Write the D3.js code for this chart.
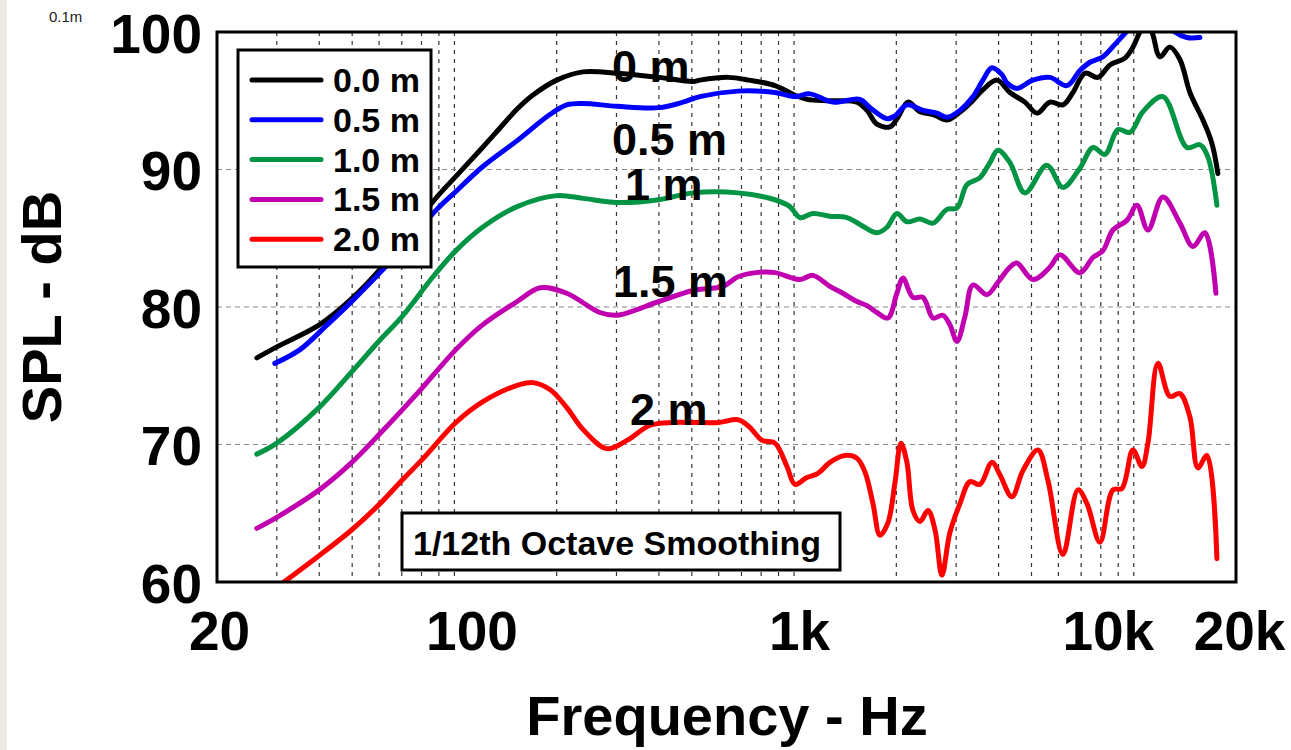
<!DOCTYPE html>
<html>
<head>
<meta charset="utf-8">
<script src="https://cdn.jsdelivr.net/npm/d3@7"></script>
<style>
  html, body { margin: 0; padding: 0; background: #ffffff; }
  svg { display: block; }
  text { font-family: "Liberation Sans", Arial, sans-serif; }
</style>
</head>
<body>
<svg id="chart" width="1291" height="750"></svg>
<script>
// ---------------- DATA ----------------
const xTickValues = [20, 100, 1000, 10000, 20000];
const xTickLabels = ["20", "100", "1k", "10k", "20k"];
const yTickValues = [60, 70, 80, 90, 100];
const hGridValues = [70, 80, 90];

const seriesNames = ["0.0 m", "0.5 m", "1.0 m", "1.5 m", "2.0 m"];

// [frequency Hz, SPL dB]
const spl00 = [
  [26.2,76.3],[30,77.1],[40,78.7],[49.3,80.5],[61.2,82.9],[74,85.5],[88.8,88.0],[101,89.5],
  [121,91.6],[136,93.0],[153,94.4],[170,95.4],[200,96.5],[239,97.1],[301,97.0],[400,96.7],[504,96.4],[528,96.5],
  [639,96.7],[737,96.5],[878,96.1],[1006,95.4],[1091,95.1],[1275,95.0],[1531,94.9],[1639,94.3],
  [1754,93.3],[1915,93.1],[2022,93.8],[2164,94.9],[2348,94.2],[2564,94.0],[2818,93.6],[3016,94.0],
  [3294,94.8],[3596,95.8],[3956,96.5],[4320,95.6],[4782,94.9],[5188,94.1],[5664,94.9],[6186,94.7],
  [6622,95.6],[7184,97.0],[7846,96.7],[8510,97.6],[9420,98.1],[9944,98.9],[10428,100],[10862,100.6],
  [11312,100],[11942,98.2],[12780,98.9],[13674,98.0],[14634,95.6],[15982,93.6],[16988,91.9],[17694,89.7]
];
const spl05 = [
  [29.6,75.9],[35.1,76.9],[42.2,78.7],[50.3,80.5],[60.4,82.5],[74,84.9],[88.8,87.1],[101,88.4],
  [121,90.2],[153,92.1],[191,94.0],[214,94.7],[239,94.8],[301,94.6],[400,94.5],[471,94.9],
  [528,95.3],[684,95.7],[878,95.6],[1006,95.3],[1114,95.5],[1301,94.9],[1563,95.1],[1672,94.5],
  [1877,93.7],[1981,93.9],[2149,94.7],[2396,94.3],[2634,94.1],[2818,93.8],[3078,94.3],[3362,95.3],
  [3596,96.5],[3824,97.4],[4092,96.9],[4232,96.3],[4530,95.9],[5048,96.5],[5664,96.7],[6356,96.1],
  [6944,97.2],[7432,97.8],[8116,98.2],[8802,99.1],[9420,99.9],[10428,100.9],[11942,101.2],[13218,100],
  [14340,99.6],[15660,99.6]
];
const spl10 = [
  [26.2,69.3],[30,70.1],[40,72.7],[49.9,75.3],[60.4,77.6],[70.1,79.3],[86.5,82.2],[101,84.1],
  [121,85.8],[153,87.3],[200,88.1],[239,87.9],[301,87.6],[400,87.8],[504,88.3],[684,88.3],
  [878,87.8],[972,87.3],[1041,86.5],[1136,86.8],[1275,86.6],[1431,86.5],[1563,86.0],[1754,85.4],
  [1877,85.8],[2008,86.8],[2149,86.2],[2348,86.4],[2564,86.1],[2818,87.1],[3016,87.2],[3228,88.9],
  [3524,89.4],[3772,90.5],[3982,91.4],[4320,90.5],[4782,88.3],[5550,90.3],[6186,88.7],[6944,90.1],
  [7584,91.6],[8226,91.1],[8982,92.9],[9744,92.7],[10642,94.2],[12188,95.3],[14340,91.6],[15660,91.8],
  [16534,90.9],[17574,87.4]
];
const spl15 = [
  [26.2,63.9],[30,64.7],[40,66.7],[49.9,68.7],[60.4,70.8],[70.1,72.5],[80.3,74.1],[101,76.9],
  [121,78.7],[153,80.4],[179,81.4],[214,81.0],[268,79.6],[301,79.4],[400,80.4],[504,81.2],
  [617,81.5],[684,82.2],[772,82.5],[878,82.5],[1041,82.0],[1136,82.3],[1275,81.5],[1392,81.0],
  [1531,80.4],[1639,80.1],[1754,79.6],[1889,79.2],[2008,81.0],[2092,82.1],[2238,80.7],[2396,80.7],
  [2564,79.2],[2742,79.4],[2876,78.7],[3016,77.5],[3184,79.3],[3362,81.6],[3696,80.9],[3982,81.8],
  [4320,82.9],[4530,83.2],[5048,82.0],[5664,82.9],[6060,83.8],[6944,82.5],[7584,83.6],[8116,84.1],
  [8684,85.6],[9548,86.3],[10218,87.4],[11010,85.6],[12188,88.0],[13674,86.1],[14934,84.4],[16200,85.4],
  [17456,81.0]
];
const spl20 = [
  [31.1,59.9],[39.4,61.8],[49.9,63.8],[60.4,65.7],[70.1,67.4],[80.3,68.9],[101,71.6],[121,73.1],
  [153,74.3],[170,74.5],[191,74.0],[214,72.7],[239,71.1],[281,69.7],[322,70.3],[377,71.4],
  [440,71.6],[504,71.6],[601,71.6],[684,71.8],[737,71.3],[805,70.3],[878,70.1],[953,68.4],
  [1006,67.1],[1091,67.6],[1176,67.9],[1275,68.7],[1411,69.2],[1531,69.0],[1617,68.0],[1707,65.7],
  [1790,63.4],[1889,64.3],[1981,67.2],[2064,70.1],[2149,68.7],[2238,65.2],[2348,64.4],[2478,65.2],
  [2599,63.8],[2724,60.5],[2876,63.6],[3078,65.7],[3294,67.3],[3524,67.1],[3824,68.7],[4036,67.8],
  [4378,66.2],[4718,68.1],[5222,69.6],[5588,67.4],[6186,62.0],[6850,66.7],[7282,65.7],[7952,62.9],
  [8684,66.7],[9230,66.8],[9944,69.6],[10570,68.4],[11010,70.1],[11782,75.9],[12780,73.5],[13674,73.7],
  [14634,72.0],[15448,68.3],[16422,69.2],[17574,61.7]
];

const curveLabelTexts = ["0 m", "0.5 m", "1 m", "1.5 m", "2 m"];
const curveLabelFreqs = [291, 291, 318, 293, 329];
const curveLabelDb = [96.4, 91.05, 87.8, 80.7, 71.4];

const noteText = "1/12th Octave Smoothing";
const cornerText = "0.1m";

// ---------------- LAYOUT / STYLE ----------------
const colors = ["#000000", "#0000ff", "#009444", "#c000b0", "#ff0000"];
const seriesData = [spl00, spl05, spl10, spl15, spl20];
// horizontal nudges of the x tick labels, as placed in the original picture
const xLabelNudge = [2, 17, 5, -26, 3];

const svg = d3.select("#chart");
const plot = { left: 217, right: 1236, top: 32, bottom: 582 };

const x = d3.scaleLog().domain([20, 20000]).range([plot.left, plot.right]);
const y = d3.scaleLinear().domain([60, 100]).range([plot.bottom, plot.top]);

// left beige strip
svg.append("rect").attr("x", 0).attr("y", 0).attr("width", 7).attr("height", 750).attr("fill", "#eeebe2");

// corner small text
svg.append("text").attr("x", 49).attr("y", 22).attr("font-size", 15).attr("fill", "#222").text(cornerText);

// clip
svg.append("defs").append("clipPath").attr("id", "plotclip")
  .append("rect").attr("x", plot.left).attr("y", plot.top)
  .attr("width", plot.right - plot.left).attr("height", plot.bottom - plot.top);

// vertical grid
const vGrid = x.ticks().filter(d => d > 20 && d < 20000);
svg.append("g").selectAll("line").data(vGrid).join("line")
  .attr("x1", d => x(d)).attr("x2", d => x(d))
  .attr("y1", plot.top).attr("y2", plot.bottom)
  .attr("stroke", "#333").attr("stroke-width", 1.2).attr("stroke-dasharray", "4,5");

// horizontal grid
svg.append("g").selectAll("line").data(hGridValues).join("line")
  .attr("x1", plot.left).attr("x2", plot.right)
  .attr("y1", d => y(d)).attr("y2", d => y(d))
  .attr("stroke", "#888").attr("stroke-width", 1.2).attr("stroke-dasharray", "5,4");

// curves
const line = d3.line().x(d => x(d[0])).y(d => y(d[1])).curve(d3.curveCatmullRom.alpha(0.5));
const gLines = svg.append("g").attr("clip-path", "url(#plotclip)");
seriesData.forEach((s, i) => {
  gLines.append("path").datum(s).attr("d", line)
    .attr("fill", "none").attr("stroke", colors[i]).attr("stroke-width", 5)
    .attr("stroke-linejoin", "round").attr("stroke-linecap", "round");
});

// frame
svg.append("rect").attr("x", plot.left).attr("y", plot.top)
  .attr("width", plot.right - plot.left).attr("height", plot.bottom - plot.top)
  .attr("fill", "none").attr("stroke", "#000").attr("stroke-width", 3);

// curve annotations
svg.append("g").selectAll("text").data(curveLabelTexts).join("text")
  .attr("x", (d, i) => x(curveLabelFreqs[i]))
  .attr("y", (d, i) => y(curveLabelDb[i]))
  .attr("font-size", 45).attr("font-weight", "bold").attr("fill", "#000")
  .text(d => d);

// legend
const lg = svg.append("g");
lg.append("rect").attr("x", 238).attr("y", 50).attr("width", 193).attr("height", 217)
  .attr("fill", "#fff").attr("stroke", "#000").attr("stroke-width", 3);
seriesNames.forEach((n, i) => {
  const cy = 80 + i * 39.8;
  lg.append("line").attr("x1", 252).attr("x2", 321).attr("y1", cy).attr("y2", cy)
    .attr("stroke", colors[i]).attr("stroke-width", 5).attr("stroke-linecap", "round");
  lg.append("text").attr("x", 333).attr("y", cy + 12).attr("font-size", 34)
    .attr("font-weight", "bold").text(n);
});

// smoothing note
svg.append("rect").attr("x", 402).attr("y", 513).attr("width", 438).attr("height", 57)
  .attr("fill", "#fff").attr("stroke", "#000").attr("stroke-width", 3);
svg.append("text").attr("x", 413).attr("y", 555).attr("font-size", 34)
  .attr("font-weight", "bold").text(noteText);

// axes
const yAxis = d3.axisLeft(y).tickValues(yTickValues).tickSize(0).tickPadding(15);
const gy = svg.append("g").attr("transform", `translate(${plot.left},0)`).call(yAxis);
gy.select(".domain").remove();
gy.selectAll("text").attr("font-size", 55).attr("font-weight", "bold").attr("fill", "#000")
  .attr("dy", "0.37em").style("font-family", "'Liberation Sans', Arial, sans-serif");

const xAxis = d3.axisBottom(x).tickValues(xTickValues)
  .tickFormat((d, i) => xTickLabels[i]).tickSize(0).tickPadding(29);
const gx = svg.append("g").attr("transform", `translate(0,${plot.bottom})`).call(xAxis);
gx.select(".domain").remove();
gx.selectAll("text").attr("font-size", 55).attr("font-weight", "bold").attr("fill", "#000")
  .attr("dx", (d, i) => xLabelNudge[i])
  .style("font-family", "'Liberation Sans', Arial, sans-serif");

// axis titles
svg.append("text").attr("x", 727).attr("y", 735).attr("text-anchor", "middle")
  .attr("font-size", 56).attr("font-weight", "bold").text("Frequency - Hz");
svg.append("text").attr("transform", "translate(61,307) rotate(-90)").attr("text-anchor", "middle")
  .attr("font-size", 56).attr("font-weight", "bold").text("SPL - dB");
</script>
</body>
</html>
